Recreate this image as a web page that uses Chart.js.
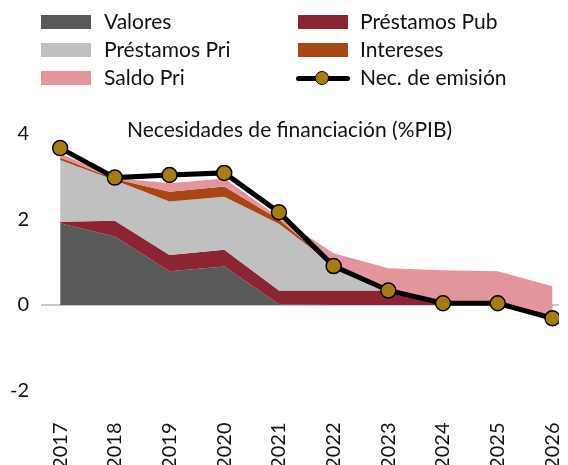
<!DOCTYPE html>
<html>
<head>
<meta charset="utf-8">
<script src="https://cdn.jsdelivr.net/npm/chart.js@4"></script>
<style>
  html, body { margin: 0; padding: 0; background: #fff; }
  #wrap { position: relative; width: 568px; height: 465px; font-family: Lato, "Open Sans", sans-serif; color: #111; }
  #chart { position: absolute; left: 0; top: 0; }
  .lg { position: absolute; font-size: 21px; line-height: 24px; white-space: nowrap; }
  .sw { position: absolute; width: 50px; height: 14px; }
  #title { position: absolute; left: 127px; top: 116px; font-size: 21px; white-space: nowrap; }
  .lineSw { position: absolute; width: 54px; height: 5px; background: #000; }
  .dot { position: absolute; width: 12px; height: 12px; border-radius: 50%; background: #A67D13; border: 1.5px solid #000; }
</style>
</head>
<body>
<div id="wrap">
  <canvas id="chart" width="568" height="465"></canvas>
  <div id="legend"></div>
  <div id="title">Necesidades de financiación (%PIB)</div>
</div>
<script>
// -------------------------
// Data
// -------------------------
const years = ["2017","2018","2019","2020","2021","2022","2023","2024","2025","2026"];
const valores = [1.91, 1.60, 0.79, 0.90, 0.02, 0.00, 0.00, 0.00, 0.00, -0.27];
const prestamosPub = [0.04, 0.37, 0.38, 0.39, 0.32, 0.34, 0.34, 0.00, 0.00, 0.00];
const prestamosPri = [1.44, 0.95, 1.25, 1.24, 1.56, 0.59, 0.00, 0.00, 0.00, 0.00];
const intereses = [0.06, 0.03, 0.23, 0.24, 0.10, 0.00, 0.00, 0.00, 0.00, 0.00];
const saldoPri = [0.10, 0.02, 0.20, 0.19, 0.05, 0.28, 0.52, 0.81, 0.79, 0.71];
const necEmision = [3.67, 2.98, 3.04, 3.09, 2.17, 0.91, 0.34, 0.04, 0.04, -0.31];

const yTicks = [-2, 0, 2, 4];

// -------------------------
// Series setup
// -------------------------
const areas = [
  { label: "Valores", data: valores, color: "#595959" },
  { label: "Préstamos Pub", data: prestamosPub, color: "#8B2433" },
  { label: "Préstamos Pri", data: prestamosPri, color: "#C0C0C0" },
  { label: "Intereses", data: intereses, color: "#A84617" },
  { label: "Saldo Pri", data: saldoPri, color: "#E3959D" }
];
const gold = "#A67D13";

// running totals so that each band fills onto the one below
const running = years.map(() => 0);
const datasets = areas.map((a, i) => {
  const pts = a.data.map((v, k) => {
    running[k] += v;
    return { x: k, y: running[k] };
  });
  return {
    label: a.label,
    data: pts,
    backgroundColor: a.color,
    borderWidth: 0,
    pointRadius: 0,
    fill: i === 0 ? "origin" : "-1",
    order: 10 - i
  };
});

datasets.push({
  label: "Nec. de emisión",
  data: necEmision.map((v, k) => ({ x: k, y: v })),
  borderColor: "#000",
  borderWidth: 5,
  pointRadius: 7.5,
  pointBackgroundColor: gold,
  pointBorderColor: "#000",
  pointBorderWidth: 1.5,
  fill: false,
  order: 1
});

// -------------------------
// Legend (two columns)
// -------------------------
const legend = document.getElementById("legend");
const legendRows = [
  [areas[0], areas[1]],
  [areas[2], areas[3]],
  [areas[4], null]
];
legendRows.forEach((row, r) => {
  const cy = 22 + r * 28;
  row.forEach((a, c) => {
    const sx = c === 0 ? 41 : 298;
    const tx = c === 0 ? 104 : 360;
    if (a) {
      const sw = document.createElement("div");
      sw.className = "sw";
      sw.style.left = sx + "px";
      sw.style.top = (cy - 7) + "px";
      sw.style.background = a.color;
      legend.appendChild(sw);
    } else {
      const ln = document.createElement("div");
      ln.className = "lineSw";
      ln.style.left = "296px";
      ln.style.top = (cy - 2.5) + "px";
      ln.style.borderRadius = "3px";
      legend.appendChild(ln);
      const dot = document.createElement("div");
      dot.className = "dot";
      dot.style.left = (322 - 7.5) + "px";
      dot.style.top = (cy - 7.5) + "px";
      legend.appendChild(dot);
    }
    const t = document.createElement("div");
    t.className = "lg";
    t.style.left = tx + "px";
    t.style.top = (cy - 13) + "px";
    t.textContent = a ? a.label : "Nec. de emisión";
    legend.appendChild(t);
  });
});

// -------------------------
// Chart
// -------------------------
new Chart(document.getElementById("chart"), {
  type: "line",
  data: { datasets },
  options: {
    responsive: false,
    animation: false,
    layout: { padding: { top: 134, left: 0, right: 0, bottom: 0 } },
    plugins: { legend: { display: false }, tooltip: { enabled: false } },
    scales: {
      x: {
        type: "linear",
        min: -0.35,
        max: 9.12,
        afterBuildTicks: s => { s.ticks = years.map((_, i) => ({ value: i })); },
        afterFit: s => {
          s.height = 74.5;
          s.paddingLeft = 0;
          s.paddingRight = 0;
        },
        grid: { display: false },
        border: { display: false },
        ticks: {
          minRotation: 90,
          maxRotation: 90,
          padding: 24,
          color: "#111",
          font: { family: "Lato", size: 20 },
          callback: v => years[v]
        }
      },
      y: {
        min: -2,
        max: 4,
        afterBuildTicks: s => { s.ticks = yTicks.map(v => ({ value: v })); },
        afterFit: s => { s.width = 41; },
        border: { display: false },
        grid: {
          drawTicks: false,
          lineWidth: 2,
          color: c => (c.tick && c.tick.value === 0 ? "#C8C8C8" : "rgba(0,0,0,0)")
        },
        ticks: {
          padding: 12,
          color: "#111",
          font: { family: "Lato", size: 20 }
        }
      }
    }
  }
});
</script>
</body>
</html>
